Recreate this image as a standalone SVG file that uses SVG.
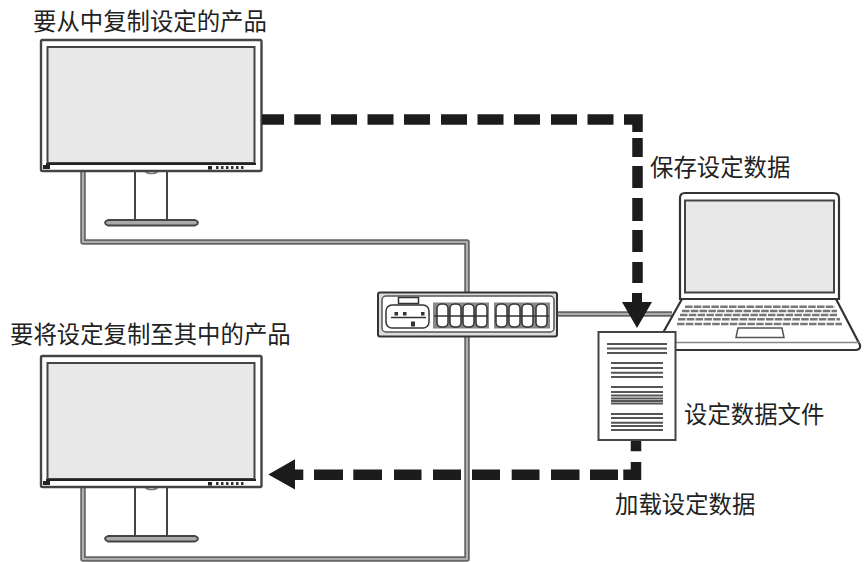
<svg xmlns="http://www.w3.org/2000/svg" width="865" height="562" viewBox="0 0 865 562">
<style>
text{font-family:"Noto Sans CJK SC","Noto Sans",sans-serif;font-size:23.4px;fill:#222}
.k{fill:none;stroke:#444;stroke-width:2;stroke-linejoin:round}
.g{fill:none;stroke:#777;stroke-width:1.6}
.screen{fill:#e8e8e8;stroke:#444;stroke-width:2}
.cable{fill:none;stroke:#666;stroke-width:5.5;stroke-linejoin:round}
.cablei{fill:none;stroke:#c4c4c4;stroke-width:1.6}
.flow{fill:none;stroke:#1c1c1c;stroke-width:10.500}
.port{fill:#fff;stroke:#333;stroke-width:1.500}
.doc{fill:none;stroke:#555;stroke-width:2}
.key{stroke:#777;stroke-width:2.600;stroke-dasharray:7.500 1.300}
.btn{fill:#333}
</style>
<defs>
<g id="monitor">
<path class="k" d="M135 171V220M167 171V220"/>
<path d="M145 171a7 4 0 0 0 13 0" class="g"/>
<path d="M108 220H195Q201 222.500 195 225.500H108Q102 222.500 108 220Z" fill="#aaa" stroke="#444" stroke-width="1.800"/>
<rect x="41" y="40" width="220.500" height="131" rx="1.500" fill="#fff" stroke="#444" stroke-width="2.400"/>
<rect x="47.500" y="47" width="207" height="116" class="screen"/>
<path d="M46 164H256" stroke="#222" stroke-width="2"/>
<rect x="43" y="165" width="7" height="4" fill="#222"/>
<rect x="208" y="166" width="4" height="3.500" fill="#222"/>
<path d="M216 167.500H246" stroke="#333" stroke-width="3" stroke-dasharray="2.500 2.500"/>
</g>
</defs>
<g id="connectors">
<path class="cable" d="M83 171V242H467V559H83V487"/>
<path class="cablei" d="M83 171V242H467V559H83V487"/>
<path class="cable" d="M557 314H672"/>
<path class="cablei" d="M557 314H672"/>
</g>
<g id="monitor-source"><use href="#monitor"/></g>
<g id="monitor-target"><use href="#monitor" y="316"/></g>
<g id="switch">
<rect x="378" y="292.500" width="179" height="44" rx="2" fill="#ddd" stroke="#333" stroke-width="2"/>
<rect x="382" y="296" width="172" height="36" rx="4" fill="#fff" stroke="#555" stroke-width="1.500"/>
<rect x="398.500" y="297.500" width="20" height="6" fill="#fff" stroke="#333" stroke-width="1.500"/>
<rect x="386" y="305" width="43" height="23" rx="6" fill="#fff" stroke="#333" stroke-width="1.500"/>
<path d="M391 317.500H426" stroke="#333" stroke-width="1.300"/>
<rect x="394.500" y="312" width="3.500" height="3.500" class="btn"/><rect x="403" y="312" width="3.500" height="3.500" class="btn"/><rect x="421" y="312" width="3.500" height="3.500" class="btn"/><rect x="411" y="321.500" width="4" height="5" class="btn"/>
<rect x="433" y="302.500" width="56" height="26" fill="#888"/>
<rect x="494" y="302.500" width="56" height="26" fill="#888"/>
<rect x="437" y="304" width="11" height="23" rx="4.500" class="port"/><rect x="450" y="304" width="11" height="23" rx="4.500" class="port"/><rect x="463" y="304" width="11" height="23" rx="4.500" class="port"/><rect x="476" y="304" width="11" height="23" rx="4.500" class="port"/>
<rect x="496" y="304" width="11" height="23" rx="4.500" class="port"/><rect x="509" y="304" width="11" height="23" rx="4.500" class="port"/><rect x="522" y="304" width="11" height="23" rx="4.500" class="port"/><rect x="536" y="304" width="11" height="23" rx="4.500" class="port"/>
<path d="M434 316H488M495 316H549" stroke="#333" stroke-width="1.600"/>
</g>
<g id="laptop">
<path d="M682 299L664 331V345Q664 350 670 350H855Q861 350 860 345L836 299Z" fill="#fff" stroke="#333" stroke-width="2.200" stroke-linejoin="round"/>
<path d="M665 342.500H859" stroke="#888" stroke-width="1.500"/>
<path d="M680 299V198Q680 193 685 193H833Q839 193 839 198V299Z" fill="#fff" stroke="#333" stroke-width="2.200"/>
<rect x="685" y="200.500" width="149" height="92" class="screen" stroke-width="1.800"/>
<path class="key" d="M685 306.700H835"/><path class="key" d="M682 311H837"/><path class="key" d="M680 315H838"/><path class="key" d="M678 319.300H840"/><path class="key" d="M677 324H842"/>
<path d="M738 328H782L784 337.500H736Z" fill="#fff" stroke="#555" stroke-width="1.500"/>
</g>
<g id="flows">
<path class="flow" d="M262 119.500H284M294.300 119.500H320.700M331 119.500H357M367.500 119.500H393.500M404 119.500H430M441 119.500H467M477.500 119.500H503.500M514 119.500H540M551 119.500H577M587.500 119.500H613.500"/>
<path class="flow" d="M624 119.500H637.500V132M637.500 138V157M637.500 166V188M637.500 198V221M637.500 230V252M637.500 262V283"/>
<path d="M632 293H642V302H652L637 328L622 302H632Z" fill="#1c1c1c"/>
<path class="flow" d="M636 440V451.300M636 462V474.700H623.300M618 474.700H590M579.500 474.700H551M539.500 474.700H511.700M500 474.700H472M461 474.700H433M421.500 474.700H394M382 474.700H353.300M343 474.700H314"/>
<path d="M268.300 474.500L295 459.300V469.500H303.300V480H295V489.500Z" fill="#1c1c1c"/>
</g>
<g id="document">
<rect x="598.500" y="332" width="77" height="108" fill="#fff" stroke="#444" stroke-width="2"/>
<path class="doc" stroke="#777" stroke-width="3.500" d="M607 344H667"/>
<path class="doc" d="M607 348.500H667M607 353H667M611 363H663M611 368H663M611 372.700H663M611 377H663M611 387H663M611 392H663M611 395.500H663M611 398.500H663M611 401H663M611 403.500H663M611 414H663M611 418H663M611 422.700H663M611 426H663M611 430H663"/>
</g>
<g id="labels">
<text x="33" y="30">要从中复制设定的产品</text>
<text x="650" y="176">保存设定数据</text>
<text x="10" y="343">要将设定复制至其中的产品</text>
<text x="684" y="423">设定数据文件</text>
<text x="615" y="513">加载设定数据</text>
</g>
</svg>
